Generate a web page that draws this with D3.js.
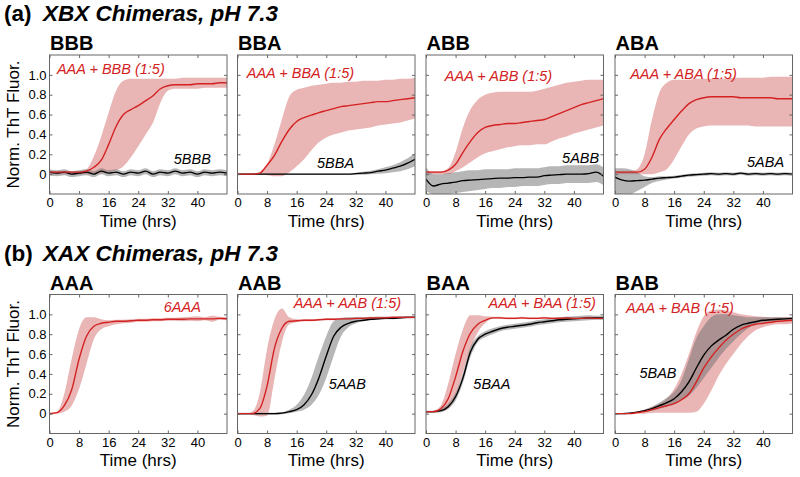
<!DOCTYPE html>
<html>
<head>
<meta charset="utf-8">
<script src="https://cdn.jsdelivr.net/npm/d3@7"></script>
<style>
	body { margin: 0; background: #fff; }
	svg { display: block; }
	text { font-family: "Liberation Sans", Arial, sans-serif; }
</style>
</head>
<body>
<svg id="chart" width="800" height="477"></svg>
<script>
// sample times (hrs) shared by every trace
const hours = [0, 2, 4, 6, 8, 10, 12, 14, 16, 18, 20, 22, 24, 26, 28, 30, 32, 34, 36, 38, 40, 42, 44, 46, 48];
const xTicks = [0, 8, 16, 24, 32, 40];
const yTicks = [0, 0.2, 0.4, 0.6, 0.8, 1.0];

// (a) XBX chimeras
const bbbMixMean = [.02, .02, .02, .02, .02, .03, .07, .14, .30, .48, .60, .65, .69, .74, .79, .86, .89, .90, .90, .90, .91, .91, .91, .92, .92];
const bbbMixLow = [0, 0, 0, 0, 0, 0, .0, .01, .02, .04, .08, .17, .28, .40, .52, .72, .84, .86, .86, .86, .86, .87, .87, .87, .87];
const bbbMixHigh = [.03, .03, .03, .03, .03, .05, .18, .38, .62, .84, .94, .96, .96, .96, .96, .96, .96, .96, .97, .97, .97, .97, .97, .97, .97];
const bbbSoloMean = [.02, .01, .02, .0, .01, .02, .0, .03, .01, .02, .0, .02, .01, .03, .0, .02, .01, .03, .01, .02, .0, .02, .01, .02, .01];
const bbbSoloLow = [-.01, -.02, -.01, -.03, -.02, -.01, -.03, .0, -.02, -.01, -.03, -.01, -.02, .0, -.03, -.01, -.02, .0, -.02, -.01, -.03, -.01, -.02, -.01, -.02];
const bbbSoloHigh = [.05, .04, .05, .03, .04, .05, .03, .06, .04, .05, .03, .05, .04, .06, .03, .05, .04, .06, .04, .05, .03, .05, .04, .05, .04];

const bbaMixMean = [0, 0, 0, .01, .09, .19, .33, .45, .53, .57, .595, .62, .64, .66, .68, .69, .70, .71, .72, .73, .73, .74, .75, .76, .77];
const bbaMixLow = [0, 0, 0, 0, -.01, -.02, -.02, .02, .08, .15, .24, .32, .37, .40, .42, .44, .45, .46, .47, .49, .50, .51, .52, .54, .56];
const bbaMixHigh = [0, 0, 0, .02, .10, .30, .55, .78, .85, .87, .89, .90, .91, .92, .92, .93, .93, .94, .94, .94, .95, .95, .96, .96, .97];
const bbaSoloMean = [0, 0, 0, 0, 0, 0, 0, 0, 0, 0, 0, 0, 0, 0, 0, 0, .005, .01, .015, .03, .04, .06, .08, .11, .15];
const bbaSoloLow = [-.005, -.005, -.005, -.005, -.005, -.005, -.005, -.005, -.005, -.005, -.005, -.005, -.005, -.005, -.005, -.005, -.005, -.005, .0, .005, .01, .02, .03, .05, .08];
const bbaSoloHigh = [.005, .005, .005, .005, .005, .005, .005, .005, .005, .005, .005, .005, .005, .005, .005, .005, .015, .025, .035, .05, .07, .09, .12, .16, .21];

const abbMixMean = [.02, .02, .02, .04, .10, .22, .33, .42, .47, .49, .50, .51, .51, .52, .53, .54, .55, .58, .61, .64, .67, .70, .72, .74, .76];
const abbMixLow = [0, 0, 0, 0, .03, .07, .12, .17, .21, .23, .25, .27, .28, .29, .29, .30, .30, .33, .36, .38, .41, .43, .45, .47, .49];
const abbMixHigh = [.03, .03, .03, .06, .22, .47, .65, .75, .80, .82, .83, .83, .83, .83, .83, .84, .86, .88, .90, .92, .93, .94, .95, .95, .95];
const abbSoloMean = [-.05, -.12, -.10, -.09, -.08, -.065, -.06, -.055, -.05, -.045, -.04, -.04, -.035, -.035, -.03, -.03, -.015, -.01, -.005, 0, 0, 0, .005, .02, -.02];
const abbSoloLow = [-.17, -.2, -.2, -.2, -.19, -.18, -.17, -.16, -.15, -.14, -.14, -.13, -.13, -.12, -.12, -.12, -.11, -.10, -.10, -.09, -.09, -.09, -.09, -.08, -.11];
const abbSoloHigh = [.07, .0, .0, .01, .02, .03, .04, .04, .05, .05, .05, .05, .06, .06, .06, .06, .07, .08, .08, .09, .09, .09, .09, .10, .07];

const abaMixMean = [.02, .02, .02, .02, .05, .17, .35, .46, .55, .635, .71, .75, .77, .78, .78, .78, .78, .77, .77, .77, .77, .77, .76, .76, .76];
const abaMixLow = [0, 0, 0, 0, 0, 0, .02, .05, .15, .28, .40, .46, .48, .49, .49, .49, .49, .49, .49, .48, .48, .48, .48, .48, .48];
const abaMixHigh = [.03, .03, .03, .05, .20, .55, .82, .92, .95, .95, .95, .96, .96, .96, .96, .96, .97, .97, .97, .97, .97, .98, .98, .98, .98];
const abaSoloMean = [-.03, -.06, -.07, -.065, -.06, -.05, -.04, -.035, -.03, -.02, -.01, -.005, 0, .005, 0, .005, 0, .01, 0, .005, 0, .005, 0, .005, 0];
const abaSoloLow = [-.2, -.2, -.2, -.17, -.13, -.09, -.07, -.055, -.045, -.035, -.025, -.02, -.015, -.01, -.015, -.01, -.015, -.005, -.015, -.01, -.015, -.01, -.015, -.01, -.015];
const abaSoloHigh = [.06, .06, .05, .02, -.02, -.03, -.02, -.02, -.015, -.005, .005, .01, .015, .02, .015, .02, .015, .025, .015, .02, .015, .02, .015, .02, .015];

// (b) XAX chimeras
const aaaMean = [0, .01, .08, .24, .55, .78, .88, .91, .92, .93, .93, .935, .94, .94, .945, .945, .95, .95, .95, .955, .955, .955, .955, .96, .955];
const aaaLow = [-.01, 0, .02, .08, .25, .50, .75, .85, .88, .90, .91, .915, .925, .925, .93, .93, .935, .935, .93, .935, .93, .94, .925, .945, .94];
const aaaHigh = [.01, .02, .20, .55, .85, .97, .97, .95, .94, .945, .945, .95, .955, .955, .96, .96, .965, .965, .97, .975, .98, .97, .985, .975, .97];

const aabMixMean = [0, 0, 0, .05, .28, .66, .86, .93, .935, .94, .94, .945, .95, .95, .955, .955, .96, .96, .965, .965, .965, .97, .97, .97, .97];
const aabMixLow = [0, 0, -.01, -.03, -.02, .35, .72, .90, .92, .93, .93, .935, .94, .94, .945, .945, .95, .95, .955, .955, .955, .96, .96, .96, .96];
const aabMixHigh = [0, 0, .02, .20, .65, .95, 1.06, .97, .95, .95, .95, .955, .96, .96, .965, .965, .97, .97, .975, .975, .975, .98, .98, .98, .98];
const aabSoloMean = [0, 0, 0, 0, 0, 0, .005, .02, .04, .09, .19, .36, .58, .78, .87, .91, .93, .94, .95, .955, .96, .96, .965, .97, .97];
const aabSoloLow = [-.01, -.01, -.01, -.01, -.01, -.01, -.005, .005, .02, .04, .09, .19, .36, .58, .78, .87, .91, .93, .94, .945, .95, .95, .955, .96, .96];
const aabSoloHigh = [.01, .01, .01, .01, .01, .01, .015, .04, .09, .19, .36, .58, .78, .93, .96, .97, .97, .97, .97, .975, .975, .975, .98, .98, .98];

const baaMixMean = [.02, .02, .05, .15, .37, .63, .81, .90, .94, .965, .965, .96, .96, .965, .96, .96, .965, .96, .96, .965, .96, .96, .965, .96, .96];
const baaMixLow = [.01, .01, .02, .05, .18, .42, .65, .82, .91, .955, .955, .95, .95, .955, .95, .95, .955, .95, .95, .955, .95, .95, .955, .95, .95];
const baaMixHigh = [.02, .03, .08, .30, .60, .85, .99, .99, .98, .975, .975, .97, .97, .975, .97, .97, .975, .97, .97, .975, .97, .97, .975, .97, .97];
const baaSoloMean = [.02, .02, .03, .07, .17, .36, .62, .75, .80, .83, .855, .87, .88, .89, .90, .915, .925, .935, .945, .95, .955, .96, .965, .965, .965];
const baaSoloLow = [.01, .01, .015, .05, .13, .31, .57, .72, .77, .80, .83, .845, .855, .865, .875, .89, .90, .91, .92, .925, .93, .935, .94, .945, .945];
const baaSoloHigh = [.03, .03, .05, .10, .21, .41, .67, .78, .83, .86, .88, .895, .905, .915, .925, .94, .95, .96, .97, .975, .98, .985, .99, .985, .985];

const babMixMean = [0, 0, 0, .01, .02, .04, .06, .08, .10, .14, .20, .32, .46, .57, .66, .74, .80, .85, .88, .90, .91, .92, .93, .935, .94];
const babMixLow = [0, 0, -.005, 0, 0, .01, .01, .01, .01, .01, .01, .02, .10, .23, .38, .50, .60, .70, .78, .84, .87, .89, .90, .90, .91];
const babMixHigh = [0, 0, .01, .02, .04, .07, .10, .15, .25, .40, .60, .82, .98, 1.04, 1.05, 1.04, 1.02, 1.0, .99, .98, .975, .97, .97, .97, .97];
const babSoloMean = [0, 0, .005, .015, .03, .05, .08, .11, .15, .22, .32, .46, .59, .68, .74, .79, .85, .89, .91, .925, .94, .945, .95, .955, .96];
const babSoloLow = [0, 0, 0, .01, .02, .03, .05, .07, .10, .14, .18, .26, .36, .46, .56, .65, .73, .80, .86, .90, .92, .93, .935, .94, .945];
const babSoloHigh = [0, 0, .01, .02, .04, .07, .11, .16, .22, .34, .55, .76, .88, .97, 1.0, 1.0, .99, .98, .97, .97, .97, .97, .97, .97, .97];

const rowTitles = [
	{ tag: "(a)", text: "XBX Chimeras, pH 7.3" },
	{ tag: "(b)", text: "XAX Chimeras, pH 7.3" },
];

const panels = [
	{ row: 0, col: 0, name: "BBB", mix: [bbbMixMean, bbbMixLow, bbbMixHigh], solo: [bbbSoloMean, bbbSoloLow, bbbSoloHigh],
		mixLabel: "AAA + BBB (1:5)", mixAt: [2, 1.01], soloLabel: "5BBB", soloAt: [33.6, 0.10] },
	{ row: 0, col: 1, name: "BBA", mix: [bbaMixMean, bbaMixLow, bbaMixHigh], solo: [bbaSoloMean, bbaSoloLow, bbaSoloHigh],
		mixLabel: "AAA + BBA (1:5)", mixAt: [2.5, 0.97], soloLabel: "5BBA", soloAt: [21.5, 0.066] },
	{ row: 0, col: 2, name: "ABB", mix: [abbMixMean, abbMixLow, abbMixHigh], solo: [abbSoloMean, abbSoloLow, abbSoloHigh],
		mixLabel: "AAA + ABB (1:5)", mixAt: [5.1, 0.94], soloLabel: "5ABB", soloAt: [36.8, 0.117] },
	{ row: 0, col: 3, name: "ABA", mix: [abaMixMean, abaMixLow, abaMixHigh], solo: [abaSoloMean, abaSoloLow, abaSoloHigh],
		mixLabel: "AAA + ABA (1:5)", mixAt: [4.1, 0.96], soloLabel: "5ABA", soloAt: [35.7, 0.067] },
	{ row: 1, col: 0, name: "AAA", mix: [aaaMean, aaaLow, aaaHigh], solo: null,
		mixLabel: "6AAA", mixAt: [30.9, 1.02] },
	{ row: 1, col: 1, name: "AAB", mix: [aabMixMean, aabMixLow, aabMixHigh], solo: [aabSoloMean, aabSoloLow, aabSoloHigh],
		mixLabel: "AAA + AAB (1:5)", mixAt: [15.2, 1.06], soloLabel: "5AAB", soloAt: [24.7, 0.25] },
	{ row: 1, col: 2, name: "BAA", mix: [baaMixMean, baaMixLow, baaMixHigh], solo: [baaSoloMean, baaSoloLow, baaSoloHigh],
		mixLabel: "AAA + BAA (1:5)", mixAt: [16.9, 1.06], soloLabel: "5BAA", soloAt: [12.8, 0.25] },
	{ row: 1, col: 3, name: "BAB", mix: [babMixMean, babMixLow, babMixHigh], solo: [babSoloMean, babSoloLow, babSoloHigh],
		mixLabel: "AAA + BAB (1:5)", mixAt: [3.0, 1.01], soloLabel: "5BAB", soloAt: [6.6, 0.36] },
];

// layout
const COL_LEFT = [49.5, 237.5, 426, 615];
const ROW_TOP = [55, 294.5];
const PW = 177.5;
const PH = 139;
const TITLE_Y = [21, 261];

const RED = "#d42222";
const FRAME = "#666";

const svg = d3.select("#chart");

const x = d3.scaleLinear().domain([0, 48]).range([0, PW]);
const y = d3.scaleLinear().domain([-0.2, 1.2]).range([PH, 0]);

const band = d3.area()
	.curve(d3.curveMonotoneX)
	.x((d) => x(d.t))
	.y0((d) => y(d.lo))
	.y1((d) => y(d.hi));

const line = d3.line()
	.curve(d3.curveMonotoneX)
	.x((d) => x(d.t))
	.y((d) => y(d.m));

function rows(trace) {
	const [mean, low, high] = trace;
	return hours.map((t, i) => ({ t: t, m: mean[i], lo: low[i], hi: high[i] }));
}

// row headings
rowTitles.forEach((r, i) => {
	const t = svg.append("text")
		.attr("x", 4)
		.attr("y", TITLE_Y[i])
		.style("font-size", "22.5px")
		.style("font-weight", "bold");
	t.append("tspan").text(r.tag);
	t.append("tspan")
		.attr("x", 43)
		.style("font-style", "italic")
		.text(r.text);
});

panels.forEach((p, idx) => {
	const g = svg.append("g")
		.attr("transform", `translate(${COL_LEFT[p.col]}, ${ROW_TOP[p.row]})`);

	g.append("clipPath")
		.attr("id", `clip${idx}`)
		.append("rect")
		.attr("width", PW)
		.attr("height", PH);

	const plot = g.append("g").attr("clip-path", `url(#clip${idx})`);

	const mix = rows(p.mix);
	const solo = p.solo ? rows(p.solo) : null;

	plot.append("path")
		.attr("d", band(mix))
		.attr("fill", "#cf5a5a")
		.attr("fill-opacity", 0.45);

	if (solo) {
		plot.append("path")
			.attr("d", band(solo))
			.attr("fill", "#6e6e6e")
			.attr("fill-opacity", 0.5);
		plot.append("path")
			.attr("d", line(solo))
			.attr("fill", "none")
			.attr("stroke", "#000")
			.attr("stroke-width", 1.4);
	}

	plot.append("path")
		.attr("d", line(mix))
		.attr("fill", "none")
		.attr("stroke", RED)
		.attr("stroke-width", 1.4);

	// inward ticks on all four sides
	const bottom = g.append("g")
		.attr("transform", `translate(0, ${PH})`)
		.call(d3.axisBottom(x).tickValues(xTicks).tickSize(-3).tickPadding(4));
	const top = g.append("g")
		.call(d3.axisTop(x).tickValues(xTicks).tickSize(-3).tickFormat(""));
	const left = g.append("g")
		.call(d3.axisLeft(y).tickValues(yTicks).tickSize(-3).tickPadding(3)
			.tickFormat((d) => (d === 0 ? "0" : d3.format(".1f")(d))));
	const right = g.append("g")
		.attr("transform", `translate(${PW}, 0)`)
		.call(d3.axisRight(y).tickValues(yTicks).tickSize(-3).tickFormat(""));

	[bottom, top, left, right].forEach((a) => {
		a.select(".domain").remove();
		a.selectAll("line").attr("stroke", FRAME);
		a.selectAll("text")
			.attr("fill", "#000")
			.style("font-size", "13px")
			.style("font-family", '"Liberation Sans", Arial, sans-serif');
	});
	if (p.col > 0) left.selectAll("text").remove();

	g.append("rect")
		.attr("width", PW)
		.attr("height", PH)
		.attr("fill", "none")
		.attr("stroke", FRAME)
		.attr("stroke-width", 1);

	// panel name
	g.append("text")
		.attr("x", 0.5)
		.attr("y", -5)
		.style("font-size", "20px")
		.style("font-weight", "bold")
		.text(p.name);

	g.append("text")
		.attr("x", PW / 2)
		.attr("y", PH + 32.5)
		.attr("text-anchor", "middle")
		.style("font-size", "17px")
		.text("Time (hrs)");

	if (p.col === 0) {
		g.append("text")
			.attr("transform", `translate(${18.5 - COL_LEFT[0]}, ${PH / 2}) rotate(-90)`)
			.attr("text-anchor", "middle")
			.style("font-size", "17px")
			.text("Norm. ThT Fluor.");
	}

	// series labels
	g.append("text")
		.attr("x", x(p.mixAt[0]))
		.attr("y", y(p.mixAt[1]))
		.attr("fill", RED)
		.style("font-size", "14.5px")
		.style("font-style", "italic")
		.text(p.mixLabel);

	if (p.soloLabel) {
		g.append("text")
			.attr("x", x(p.soloAt[0]))
			.attr("y", y(p.soloAt[1]))
			.attr("fill", "#000")
			.style("font-size", "14.5px")
			.style("font-style", "italic")
			.text(p.soloLabel);
	}
});
</script>
</body>
</html>
